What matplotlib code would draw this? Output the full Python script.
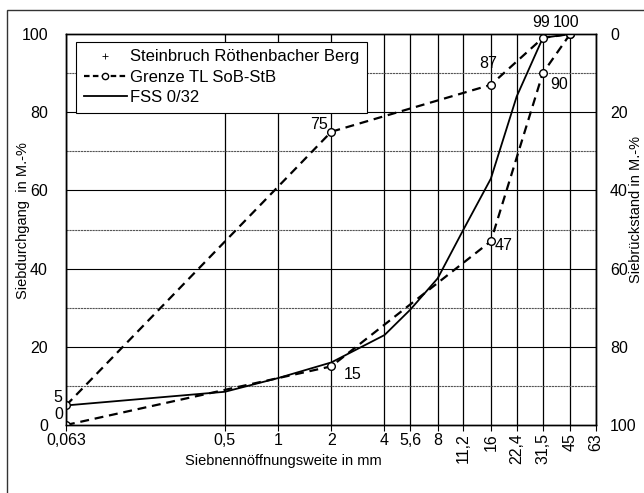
import matplotlib.pyplot as plt
from matplotlib.lines import Line2D
from matplotlib.patches import Rectangle

plt.rcParams['font.family'] = ['Liberation Sans', 'DejaVu Sans']
plt.rcParams['font.size'] = 11.5

# sieve sizes (mm) and tick labels
sieves = [0.063, 0.5, 1, 2, 4, 5.6, 8, 11.2, 16, 22.4, 31.5, 45, 63]
sieve_labels = ["0,063", "0,5", "1", "2", "4", "5,6", "8", "11,2", "16", "22,4", "31,5", "45", "63"]

# Grenze TL SoB-StB (upper / lower limit)
lim_x = [0.063, 2, 16, 31.5, 45]
lim_upper = [5, 75, 87, 99, 100]
lim_lower = [0, 15, 47, 90, 100]

# FSS 0/32
fss_x = [0.063, 0.5, 1, 2, 4, 5.6, 8, 11.2, 16, 22.4, 31.5, 45]
fss_y = [5, 8.5, 12, 16, 23, 29.5, 37.5, 50, 63, 84, 99, 100]

fig = plt.figure(figsize=(6.44, 4.93), dpi=100)
ax = fig.add_axes([66 / 644, 1 - 425 / 493, 530 / 644, 391 / 493])

ax.set_xscale('log', base=2)
ax.set_xlim(0.063, 63)
ax.set_ylim(0, 100)

# grid
for s in sieves:
    ax.axvline(s, color='black', lw=0.9, zorder=1)
for v in range(10, 100, 10):
    ax.axhline(v, color='black' if v % 20 == 0 else '#555555', lw=0.8,
               ls='-' if v % 20 == 0 else (0, (2, 0.6)), zorder=1)

dash = (0, (4, 2.6))
ax.plot(lim_x, lim_upper, color='black', lw=1.6, ls=dash, zorder=3)
ax.plot(lim_x, lim_lower, color='black', lw=1.6, ls=dash, zorder=3)
ax.plot(fss_x, fss_y, color='black', lw=1.3, zorder=4)
ax.plot(lim_x, lim_upper, ls='none', marker='o', ms=5.5, mfc='white', mec='black', mew=1, zorder=5)
ax.plot(lim_x, lim_lower, ls='none', marker='o', ms=5.5, mfc='white', mec='black', mew=1, zorder=5)

# point labels (offsets in points)
offs_up = [(-6, 6), (-9, 5), (-2, 15), (-1.5, 11), None]
offs_lo = [(-5, 7.5), (15, -6), (9, -3), (12, -8), (-3, 8)]
for xs, ys, offs in ((lim_x, lim_upper, offs_up), (lim_x, lim_lower, offs_lo)):
    for x, y, off in zip(xs, ys, offs):
        if off is None:
            continue
        ax.annotate(str(y), (x, y), xytext=off, textcoords='offset points',
                    ha='center', va='center', fontsize=11.5)

ax.set_xticks(sieves)
ax.set_xticklabels(sieve_labels)
ax.minorticks_off()
for lbl, s in zip(ax.get_xticklabels(), sieves):
    if s >= 11.2:
        lbl.set_rotation(90)
        lbl.set_va('top')
ax.tick_params(axis='x', length=4, pad=2)
ax.set_yticks(range(0, 101, 20))
ax.tick_params(axis='y', length=0, pad=13)
ax.set_xlabel("Siebnennöffnungsweite in mm", va='center', fontsize=10.5)
ax.xaxis.set_label_coords(0.41, -0.092)
ax.set_ylabel("Siebdurchgang  in M.-%", va='center', fontsize=10.5)
ax.yaxis.set_label_coords(-0.081, 0.524)

ax2 = ax.twinx()
ax2.set_ylim(100, 0)
ax2.set_yticks(range(0, 101, 20))
ax2.tick_params(axis='y', length=0, pad=10)
ax2.set_ylabel("Siebrückstand in M.-%", va='center', fontsize=10.5)
ax2.yaxis.set_label_coords((636 - 66) / 530, 0.55)

for a in (ax, ax2):
    for sp in a.spines.values():
        sp.set_color('black')
        sp.set_linewidth(1.0)

handles = [
    Line2D([], [], ls='none', marker='+', ms=4, color='black', mew=0.6),
    Line2D([], [], color='black', lw=1.6, ls=(0, (2.5, 1.5)), marker='o', ms=4.5, mfc='white', mec='black'),
    Line2D([], [], color='black', lw=1.3),
]
leg = ax.legend(handles, ["Steinbruch Röthenbacher Berg", "Grenze TL SoB-StB", "FSS 0/32"],
                loc='upper left', bbox_to_anchor=(10 / 530, 1 - 8 / 391), fancybox=False, framealpha=1,
                edgecolor='black', borderpad=0.45, labelspacing=0.32, handlelength=2.6,
                handletextpad=0.2, borderaxespad=0, fontsize=12)
leg.get_frame().set_linewidth(0.8)
leg.set_zorder(10)

# outer frame
fig.patches.append(Rectangle((7 / 644, -0.05), 0.99, 1 - 10 / 493 + 0.05, transform=fig.transFigure,
                             fill=False, edgecolor='#333333', lw=1.0))

fig.savefig("out.png", dpi=100)
